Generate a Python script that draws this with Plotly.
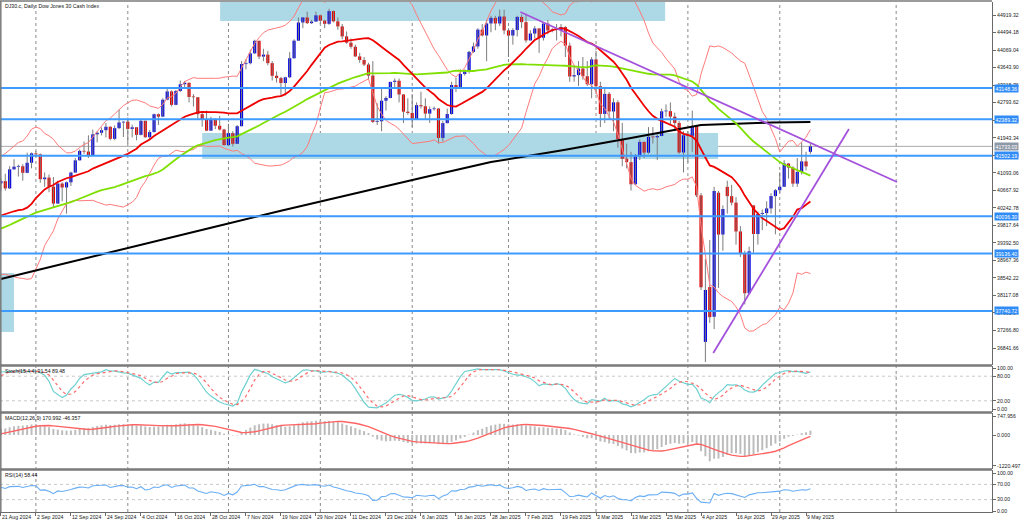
import numpy as np
import pandas as pd
import plotly.graph_objects as go

W, H = 1024, 526
TITLE = "DJ30.c, Daily: Dow Jones 30 Cash Index"
STOCH_LABEL = "Stoch(15,4,4) 91.54 89.48"
MACD_LABEL = "MACD(12,26,9) 170.992 -46.357"
RSI_LABEL = "RSI(14) 58.44"

# ---- warm-up bars (Jun 3 - Aug 20 2024, off screen, used for indicator history)
warm_open = [38690, 38571, 38711, 38807, 38886, 38799, 38868, 38747, 38712, 38647, 38589, 38778, 38834, 39135,
             39150, 39411, 39112, 39127, 39164, 39119, 39170, 39331, 39308, 39375, 39344, 39291, 39721, 39753,
             40001, 40212, 40954, 41198, 40665, 40288, 40415, 40358, 39854, 39935, 40589, 40539, 40743, 40842,
             40347, 39737, 38703, 38997, 38763, 39446, 39498, 39357, 39765, 40008, 40563, 40660, 40896]
warm_high = [38720, 38780, 38850, 38950, 39000, 38900, 38900, 39150, 38800, 38700, 38850, 38900, 39250, 39300,
             39500, 39420, 39200, 39250, 39450, 39250, 39400, 39400, 39500, 39500, 39450, 39750, 39900, 40250,
             40400, 40980, 41380, 41200, 40700, 40480, 40500, 40400, 40500, 40650, 40700, 40900, 41100, 41000,
             40350, 39750, 39250, 39500, 39500, 39550, 39600, 39800, 40050, 40600, 40700, 40900, 40950]
warm_low = [38200, 38450, 38500, 38750, 38650, 38600, 38450, 38700, 38450, 38350, 38400, 38700, 38800, 39000,
            39100, 39050, 38950, 39050, 39100, 38900, 39050, 39250, 39200, 39250, 39200, 39280, 39550, 39740,
            39950, 40200, 40900, 40550, 40200, 40200, 40250, 39800, 39800, 39930, 40300, 40450, 40700, 40200,
            39500, 38450, 38650, 38700, 38750, 39300, 39200, 39350, 39700, 40000, 40450, 40550, 40700]
warm_close = [38571, 38711, 38807, 38886, 38799, 38868, 38747, 38712, 38647, 38589, 38778, 38834, 39135, 39150,
              39411, 39112, 39127, 39164, 39119, 39170, 39331, 39308, 39375, 39344, 39291, 39721, 39753, 40001,
              40212, 40954, 41198, 40665, 40288, 40415, 40358, 39854, 39935, 40589, 40539, 40743, 40842, 40347,
              39737, 38703, 38997, 38763, 39446, 39498, 39357, 39765, 40008, 40563, 40660, 40896, 40835]

# ---- visible daily bars (21 Aug 2024 - 12 May 2025)
bar_open = [40835, 40890, 40713, 41175, 41240, 41250, 41091, 41335, 41563, 41540, 40937, 40975, 40755, 40345, 40830,
            40736, 40861, 41097, 41394, 41622, 41606, 41503, 42025, 42063, 42125, 42208, 41915, 42175, 42313, 42330,
            42156, 42196, 42012, 42352, 41954, 42080, 42512, 42454, 42864, 43065, 42740, 43077, 43239, 43276, 42931,
            42925, 42514, 42374, 42114, 42387, 42233, 42142, 41763, 42052, 41795, 42222, 43729, 43750, 43989, 44293,
            43911, 43958, 43751, 43445, 43390, 43269, 43408, 43870, 44297, 44737, 44860, 44722, 44760, 44911, 44782,
            44705, 45014, 44766, 44643, 44401, 44248, 44149, 43915, 43828, 43717, 43450, 42326, 42342, 42840, 42907,
            43297, 43325, 42992, 42574, 42544, 42392, 42732, 42706, 42528, 42635, 42650, 41938, 42297, 42518, 43221,
            43153, 43488, 43550, 44025, 44157, 44565, 44424, 44714, 44850, 44713, 44882, 44545, 44422, 44556, 44873,
            44747, 44303, 44470, 44593, 44368, 44711, 44546, 44560, 44556, 44627, 44176, 43428, 43461, 43621, 43433,
            43239, 43841, 43191, 42520, 43006, 42579, 42801, 41911, 41433, 41350, 40813, 41488, 41841, 41581, 41964,
            41953, 41985, 42583, 42587, 42455, 42300, 41584, 42002, 41989, 42226, 40545, 36990, 38320, 37600, 40608,
            39594, 40750, 40525, 40368, 39669, 39142, 38170, 40300, 39607, 40093, 40114, 40228, 40527, 40669, 40753,
            41317, 41218, 40829, 41114, 41368, 41600]
bar_high = [40960, 41070, 41250, 41420, 41290, 41300, 41580, 41585, 41620, 41560, 41100, 41050, 40990, 40900, 40860,
            40880, 41120, 41450, 41660, 41850, 42000, 42140, 42100, 42190, 42300, 42220, 42240, 42630, 42340, 42430,
            42260, 42200, 42400, 42360, 42130, 42530, 42530, 42900, 43140, 43090, 43100, 43330, 43320, 43280, 43000,
            42930, 42560, 42600, 42450, 42420, 42470, 42160, 42280, 42100, 42250, 43800, 43850, 44080, 44320, 44300,
            44100, 44050, 43800, 43550, 43420, 43420, 44020, 44330, 44860, 44870, 45000, 44800, 45000, 44930, 44800,
            45070, 45030, 44860, 44700, 44520, 44350, 44200, 44000, 43900, 43760, 43800, 42780, 43150, 42950, 43300,
            43380, 43380, 43000, 42900, 43000, 42800, 43060, 42900, 42700, 42700, 42660, 42350, 42650, 43300, 43400,
            43600, 43600, 44050, 44250, 44600, 44700, 44800, 44900, 44900, 45050, 45050, 44600, 44600, 44900, 44930,
            44950, 44550, 44650, 44600, 44750, 44800, 44600, 44700, 44700, 44650, 44250, 43700, 43800, 43900, 43800,
            43900, 44050, 43300, 43150, 43050, 42900, 42850, 42300, 41800, 41600, 41550, 41900, 41850, 42200, 42200,
            42050, 42650, 42750, 42800, 42550, 42350, 42100, 42100, 42600, 42250, 40600, 39000, 39460, 40750, 40650,
            40300, 40900, 40800, 40500, 39800, 39200, 39300, 40300, 40150, 40200, 40400, 40600, 40700, 41100, 41400,
            41330, 41250, 41450, 41830, 41600, 41800]
bar_low = [40650, 40660, 40700, 41170, 41000, 40900, 41080, 41200, 41480, 40850, 40750, 40620, 40250, 40340, 40400,
           40100, 40770, 41090, 41390, 41550, 41450, 41500, 41830, 42000, 41950, 41880, 41880, 42150, 41960, 41800,
           41950, 41880, 42000, 41940, 41900, 42070, 42250, 42440, 42850, 42700, 42730, 43050, 43150, 42800, 42700,
           42400, 42210, 42100, 42110, 42150, 42120, 41750, 41740, 41730, 41790, 42220, 43600, 43720, 43980, 43850,
           43800, 43700, 43330, 43280, 42950, 42970, 43390, 43860, 44290, 44600, 44700, 44700, 44750, 44700, 44600,
           44680, 44740, 44560, 44330, 44220, 44100, 43900, 43760, 43680, 43350, 42300, 42250, 42100, 42600, 42900,
           43150, 42800, 42300, 42500, 42200, 42380, 42650, 42400, 42300, 42600, 41800, 41850, 42290, 42500, 43050,
           43150, 43450, 43500, 44000, 44100, 44400, 43800, 44500, 44550, 44650, 44450, 43900, 44200, 44400, 44600,
           44250, 44300, 44350, 44000, 44300, 44450, 44500, 44300, 44400, 43900, 43300, 43300, 43200, 43350, 43200,
           42900, 43000, 42200, 42300, 42400, 42100, 41700, 41250, 41200, 40660, 40800, 41400, 41450, 41550, 41800,
           41400, 41980, 42450, 42250, 42100, 41550, 41100, 41350, 41600, 40500, 38250, 36500, 37450, 37300, 38300,
           39200, 40100, 40300, 39350, 39050, 37900, 38150, 39150, 39350, 39700, 39800, 40100, 39600, 40600, 40750,
           40950, 40750, 40750, 41050, 41150, 41550]
bar_close = [40890, 40713, 41175, 41240, 41250, 41091, 41335, 41563, 41540, 40937, 40975, 40755, 40345, 40830, 40736,
             40861, 41097, 41394, 41622, 41606, 41503, 42025, 42063, 42125, 42208, 41915, 42175, 42313, 42330, 42156,
             42196, 42012, 42352, 41954, 42080, 42512, 42454, 42864, 43065, 42740, 43077, 43239, 43276, 42931, 42925,
             42514, 42374, 42114, 42387, 42233, 42142, 41763, 42052, 41795, 42222, 43729, 43750, 43989, 44293, 43911,
             43958, 43751, 43445, 43390, 43269, 43408, 43870, 44297, 44737, 44860, 44722, 44760, 44911, 44782, 44705,
             45014, 44766, 44643, 44401, 44248, 44149, 43915, 43828, 43717, 43450, 42326, 42342, 42840, 42907, 43297,
             43325, 42992, 42574, 42544, 42392, 42732, 42706, 42528, 42635, 42650, 41938, 42297, 42518, 43221, 43153,
             43488, 43550, 44025, 44157, 44565, 44424, 44714, 44850, 44713, 44882, 44545, 44422, 44556, 44873, 44747,
             44303, 44470, 44593, 44368, 44711, 44546, 44560, 44556, 44627, 44176, 43428, 43461, 43621, 43433, 43239,
             43841, 43191, 42520, 43006, 42579, 42801, 41911, 41433, 41350, 40813, 41488, 41841, 41581, 41964, 41953,
             41985, 42583, 42587, 42455, 42300, 41584, 42002, 41989, 42226, 40545, 38315, 38250, 37590, 40650, 39594,
             40213, 40525, 40368, 39669, 39142, 38170, 39187, 39607, 40093, 40114, 40228, 40527, 40669, 40753, 41317,
             41218, 40829, 41114, 41368, 41249, 41733]

# ---- x-axis labels (every 8 bars) and month grid lines (bar positions)
date_label_bars = [0, 8, 16, 24, 32, 40, 48, 56, 64, 72, 80, 88, 96, 104, 112, 120, 128, 136, 144, 152, 160, 168, 176, 184]
date_labels = ["21 Aug 2024", "2 Sep 2024", "12 Sep 2024", "24 Sep 2024", "4 Oct 2024", "16 Oct 2024", "28 Oct 2024",
               "7 Nov 2024", "19 Nov 2024", "29 Nov 2024", "11 Dec 2024", "23 Dec 2024", "6 Jan 2025", "16 Jan 2025",
               "28 Jan 2025", "7 Feb 2025", "19 Feb 2025", "3 Mar 2025", "13 Mar 2025", "25 Mar 2025", "4 Apr 2025",
               "16 Apr 2025", "29 Apr 2025", "9 May 2025"]
month_grid_bars = [8, 29, 52, 73, 94, 116, 136, 157, 178, 204.6]

ma200_bars = [0, 16, 32, 48, 64, 80, 96, 112, 128, 144, 160, 176, 185]
ma200_vals = [38515, 38934, 39347, 39760, 40172, 40577, 40965, 41353, 41632, 41935, 42250, 42310, 42323]

# ---- drawn objects
level_prices = [43148.36, 42389.32, 41502.19, 40036.30, 39136.40, 37740.72]
bid_price = 41733.03
rect_bars = [(50.1, 151.8), (46.0, 163.9), (-0.5, 3.0)]
rect_prices = [(44774, 45400), (41426, 42057), (37229, 38660)]
trend_lines = [((118.7, 44992), (204.8, 40868)), ((162.8, 36719), (193.8, 42153))]

price_ticks = [44919.32, 44494.18, 44069.04, 43643.90, 43218.76, 42793.62, 42368.48, 41943.34, 41518.20, 41093.06,
               40667.92, 40242.78, 39817.64, 39392.50, 38967.36, 38542.22, 38117.08, 37691.94, 37266.80, 36841.66]
stoch_ticks = [100, 80, 20, 0]
stoch_levels = [80, 20]
macd_ticks = [747.956, 0.0, -1220.497]
macd_tick_text = ["747.956", "0.000", "-1220.497"]
rsi_ticks = [100, 70, 30, 0]
rsi_levels = [70, 30]

# ---------------- indicators ----------------
o = pd.Series(warm_open + bar_open, dtype=float)
h = pd.Series(warm_high + bar_high, dtype=float)
l = pd.Series(warm_low + bar_low, dtype=float)
c = pd.Series(warm_close + bar_close, dtype=float)
nw = len(warm_close)
n = len(bar_close)
xi = np.arange(n)

sma20 = c.rolling(20).mean()
sd20 = c.rolling(20).std(ddof=0)
bb_up = sma20 + 2 * sd20
bb_lo = sma20 - 2 * sd20
sma50 = c.rolling(50).mean()

ll = l.rolling(15).min()
hh = h.rolling(15).max()
stk = 100 * (c - ll).rolling(4).sum() / (hh - ll).rolling(4).sum()
std_ = stk.rolling(4).mean()

ema12 = c.ewm(span=12, adjust=False).mean()
ema26 = c.ewm(span=26, adjust=False).mean()
macd = ema12 - ema26
macd_sig = macd.rolling(9).mean()

d = c.diff()
gain = d.clip(lower=0).ewm(alpha=1 / 14, adjust=False).mean()
loss = (-d.clip(upper=0)).ewm(alpha=1 / 14, adjust=False).mean()
rsi = 100 - 100 / (1 + gain / loss)


def vis(s):
    return s.iloc[nw:].to_numpy()


# ---------------- layout geometry ----------------
def py(px):
    return 1 - px / H


XR = [-0.206, 226.5]
XD = [0, 992 / W]
dom_main = [py(365), py(2)]
dom_stoch = [py(412), py(366)]
dom_macd = [py(469), py(413)]
dom_rsi = [py(512), py(470)]

FONT = "Liberation Sans, Arial, sans-serif"
FS = 5.2

fig = go.Figure()

# wicks
wx, wy = [], []
for i in range(n):
    wx += [i, i, None]
    wy += [bar_low[i], bar_high[i], None]
fig.add_trace(go.Scatter(x=wx, y=wy, mode="lines", line=dict(color="#7c7c7c", width=1), hoverinfo="skip"))

# bodies
bo = np.array(bar_open, float)
bc = np.array(bar_close, float)
body_base = np.minimum(bo, bc)
body_h = np.maximum(np.abs(bc - bo), 18)
body_col = ["#0000e6" if bc[i] >= bo[i] else "#e60000" for i in range(n)]
fig.add_trace(go.Bar(x=xi, y=body_h, base=body_base, width=0.72, marker=dict(color=body_col, line=dict(width=0))))

# moving averages / bands
fig.add_trace(go.Scatter(x=xi, y=vis(bb_up), mode="lines", line=dict(color="#ff7a7a", width=1)))
fig.add_trace(go.Scatter(x=xi, y=vis(bb_lo), mode="lines", line=dict(color="#ff7a7a", width=1)))
fig.add_trace(go.Scatter(x=ma200_bars, y=ma200_vals, mode="lines", line=dict(color="#000000", width=2)))
fig.add_trace(go.Scatter(x=xi, y=vis(sma50), mode="lines", line=dict(color="#7fe000", width=1.8)))
fig.add_trace(go.Scatter(x=xi, y=vis(sma20), mode="lines", line=dict(color="#ee0000", width=1.8)))

# stochastic
for lv in stoch_levels:
    fig.add_trace(go.Scatter(x=XR, y=[lv, lv], mode="lines", yaxis="y2",
                             line=dict(color="#c8c8c8", width=1, dash="dot")))
fig.add_trace(go.Scatter(x=xi, y=vis(stk), mode="lines", yaxis="y2", line=dict(color="#6fd0d0", width=1.2)))
fig.add_trace(go.Scatter(x=xi, y=vis(std_), mode="lines", yaxis="y2", line=dict(color="#ff6b6b", width=1.2, dash="dot")))

# macd
fig.add_trace(go.Bar(x=xi, y=vis(macd), width=0.45, yaxis="y3", marker=dict(color="#bcbcbc", line=dict(width=0))))
fig.add_trace(go.Scatter(x=xi, y=vis(macd_sig), mode="lines", yaxis="y3", line=dict(color="#ff6464", width=1.4)))

# rsi
for lv in rsi_levels:
    fig.add_trace(go.Scatter(x=XR, y=[lv, lv], mode="lines", yaxis="y4",
                             line=dict(color="#c8c8c8", width=1, dash="dot")))
fig.add_trace(go.Scatter(x=xi, y=vis(rsi), mode="lines", yaxis="y4", line=dict(color="#6aaef5", width=1.1)))

shapes = []
# rectangles (background)
for (x0, x1), (p0, p1) in zip(rect_bars, rect_prices):
    shapes.append(dict(type="rect", xref="x", yref="y", x0=x0, x1=x1, y0=p0, y1=p1,
                       fillcolor="#add8e6", line=dict(width=0), layer="below"))
# month grid
for gb in month_grid_bars:
    shapes.append(dict(type="line", xref="x", yref="paper", x0=gb, x1=gb, y0=py(512), y1=py(2),
                       line=dict(color="#8a8a8a", width=1, dash="dot"), layer="below"))
# bid line
shapes.append(dict(type="line", xref="paper", yref="y", x0=0, x1=XD[1], y0=bid_price, y1=bid_price,
                   line=dict(color="#a9a9a9", width=1), layer="below"))
# horizontal levels
for lp in level_prices:
    shapes.append(dict(type="line", xref="paper", yref="y", x0=0, x1=XD[1], y0=lp, y1=lp,
                       line=dict(color="#3d9bff", width=2)))
# trend lines
for (a, b) in trend_lines:
    shapes.append(dict(type="line", xref="x", yref="y", x0=a[0], y0=a[1], x1=b[0], y1=b[1],
                       line=dict(color="#a452dc", width=1.8)))
# panel frames
for ypx, wdt in [(1, 1.5), (365.5, 2.5), (412.5, 2.5), (469.5, 2.5)]:
    shapes.append(dict(type="line", xref="paper", yref="paper", x0=0, x1=XD[1], y0=py(ypx), y1=py(ypx),
                       line=dict(color="#7a7a7a", width=wdt)))
shapes.append(dict(type="line", xref="paper", yref="paper", x0=0.0008, x1=0.0008, y0=py(512), y1=py(1),
                   line=dict(color="#7a7a7a", width=1.5)))

annotations = []
annotations.append(dict(text=TITLE, xref="paper", yref="paper", x=3 / W, y=py(6), xanchor="left", yanchor="middle",
                        showarrow=False, font=dict(size=FS, color="#111", family=FONT)))
for txt, ypx in [(STOCH_LABEL, 371), (MACD_LABEL, 418), (RSI_LABEL, 475)]:
    annotations.append(dict(text=txt, xref="paper", yref="paper", x=3 / W, y=py(ypx), xanchor="left",
                            yanchor="middle", showarrow=False, font=dict(size=FS, color="#111", family=FONT)))
for lp in level_prices:
    annotations.append(dict(text=f"{lp:.2f}", xref="paper", yref="y", x=993.5 / W, y=lp, xanchor="left",
                            yanchor="middle", showarrow=False, bgcolor="#2f8cf7", borderpad=0.6,
                            font=dict(size=FS, color="white", family=FONT)))
annotations.append(dict(text=f"{bid_price:.2f}", xref="paper", yref="y", x=993.5 / W, y=bid_price, xanchor="left",
                        yanchor="middle", showarrow=False, bgcolor="#8e99a8", borderpad=0.6,
                        font=dict(size=FS, color="white", family=FONT)))

axfont = dict(size=FS, color="#222", family=FONT)
yax_common = dict(side="right", anchor="x", showgrid=False, zeroline=False, showline=True, linecolor="#6a6a6a",
                  linewidth=1, ticks="outside", ticklen=3, tickcolor="#6a6a6a", tickfont=axfont, fixedrange=True,
                  automargin=False)

fig.update_layout(
    width=W, height=H, margin=dict(l=0, r=0, t=0, b=0, autoexpand=False), paper_bgcolor="white",
    plot_bgcolor="white", showlegend=False, barmode="overlay", hovermode=False,
    xaxis=dict(domain=XD, range=XR, anchor="y4", showgrid=False, zeroline=False, showline=True, linecolor="#6a6a6a",
               ticks="outside", ticklen=3, tickcolor="#6a6a6a", tickvals=date_label_bars, ticktext=date_labels,
               ticklabelposition="outside right", tickangle=0, tickfont=axfont, fixedrange=True, automargin=False),
    yaxis=dict(domain=dom_main, range=[36429.2, 45234.7], tickvals=price_ticks,
               ticktext=[f"{v:.2f}" for v in price_ticks], **yax_common),
    yaxis2=dict(domain=dom_stoch, range=[-7.3, 104.9], tickvals=stoch_ticks,
                ticktext=[f"{v:.2f}" for v in stoch_ticks], **yax_common),
    yaxis3=dict(domain=dom_macd, range=[-1339.6, 866.8], tickvals=macd_ticks, ticktext=macd_tick_text, **yax_common),
    yaxis4=dict(domain=dom_rsi, range=[-2.6, 107.9], tickvals=rsi_ticks,
                ticktext=[f"{v:.2f}" for v in rsi_ticks], **yax_common),
    shapes=shapes, annotations=annotations,
)

fig.write_html("out.html", config={"displayModeBar": False, "staticPlot": True})
